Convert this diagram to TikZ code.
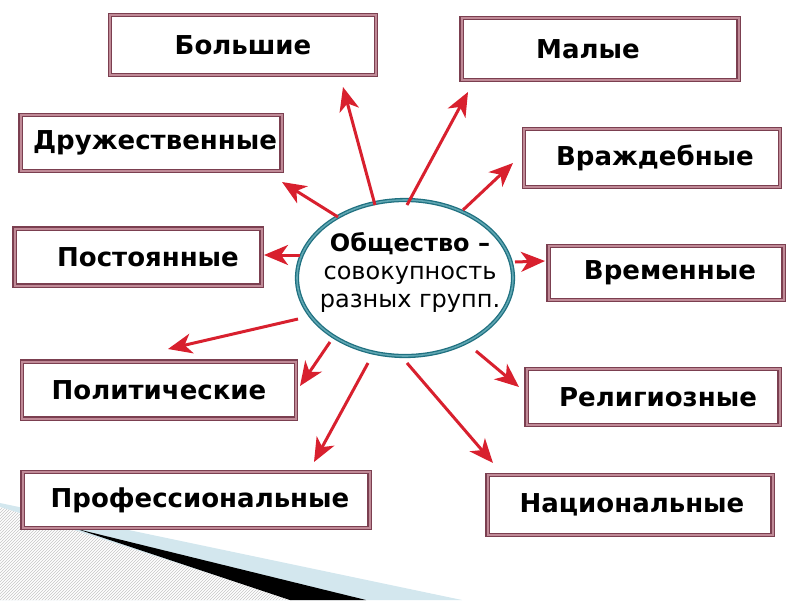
\documentclass[tikz,border=0pt]{standalone}
\usepackage{fontspec}
\setmainfont{DejaVu Sans}
\usetikzlibrary{arrows.meta,patterns,shadows,shapes.geometric}
\definecolor{boxline}{HTML}{7B3F50}
\definecolor{boxmid}{HTML}{C08A97}
\definecolor{ellline}{HTML}{1F7080}
\definecolor{ellmid}{HTML}{5FA6B2}
\definecolor{arr}{HTML}{D8202E}
\definecolor{lblue}{HTML}{D3E7EE}
\tikzset{
  grp/.style={draw=boxline, line width=1.2pt, double=boxmid, double distance=2pt,
    fill=white, inner sep=0pt, font=\fontsize{26}{30}\selectfont\bfseries,
    drop shadow={shadow xshift=1.5pt, shadow yshift=-1.5pt, opacity=0.25}},
  arrw/.style={draw=arr, line width=3pt, -{Stealth[length=24pt,width=20pt,inset=7pt]}},
}
\begin{document}
\begin{tikzpicture}[x=1pt,y=-1pt]
\useasboundingbox (0,0) rectangle (800,600);
% background decoration
\fill[lblue] (0,503) -- (462,600) -- (0,600) -- cycle;
\fill[white] (0,507) -- (77,531) -- (292,600) -- (0,600) -- cycle;
\fill[pattern=north east lines, pattern color=gray!45] (0,507) -- (77,531) -- (292,600) -- (0,600) -- cycle;
\fill[black] (77,529) -- (366,600) -- (290,600) -- cycle;
% centre
\node[draw=ellline, line width=1.3pt, double=ellmid, double distance=1.6pt, fill=white,
  ellipse, minimum width=216pt, minimum height=156pt, inner sep=0pt] (c) at (405,278) {};
\node[align=center, font=\fontsize{24}{28}\selectfont] (ct) at (410,272)
  {\textbf{Общество –}\\совокупность\\разных групп.};
% boxes
\node[grp, minimum width=266pt, minimum height=60pt] (b1) at (243,45) {Большие};
\node[grp, minimum width=277pt, minimum height=62pt] (b2) at (600,49) {\hspace*{-24pt}Малые};
\node[grp, minimum width=261pt, minimum height=56pt] (b3) at (151,143) {\hspace*{8pt}Дружественные};
\node[grp, minimum width=256pt, minimum height=58pt] (b4) at (652,158) {\hspace*{6pt}Враждебные};
\node[grp, minimum width=247pt, minimum height=57pt] (b5) at (138,257) {\hspace*{20pt}Постоянные};
\node[grp, minimum width=235pt, minimum height=54pt] (b6) at (666,273) {\hspace*{8pt}Временные};
\node[grp, minimum width=274pt, minimum height=57pt] (b7) at (159,390) {Политические};
\node[grp, minimum width=253pt, minimum height=56pt] (b8) at (653,397) {\hspace*{10pt}Религиозные};
\node[grp, minimum width=347pt, minimum height=56pt] (b9) at (196,500) {\hspace*{8pt}Профессиональные};
\node[grp, minimum width=285pt, minimum height=60pt] (b10) at (630,505) {\hspace*{4pt}Национальные};
% arrow ends
\coordinate (s1) at (375,205);  \coordinate (t1) at (343,87);
\coordinate (s2) at (407,205);  \coordinate (t2) at (468,92);
\coordinate (s3) at (338,217);  \coordinate (t3) at (282,182);
\coordinate (s4) at (300,255);  \coordinate (t4) at (264,255);
\coordinate (s5) at (463,210);  \coordinate (t5) at (513,163);
\coordinate (s6) at (515,262);  \coordinate (t6) at (545,261);
\coordinate (s7) at (298,319);  \coordinate (t7) at (168,349);
\coordinate (s8) at (330,342);  \coordinate (t8) at (300,386);
\coordinate (s9) at (368,363);  \coordinate (t9) at (314,462);
\coordinate (s10) at (476,351); \coordinate (t10) at (519,387);
\coordinate (s11) at (407,363); \coordinate (t11) at (493,463);
\foreach \i in {1,...,11} \draw[arrw] (s\i) -- (t\i);
\end{tikzpicture}
\end{document}
